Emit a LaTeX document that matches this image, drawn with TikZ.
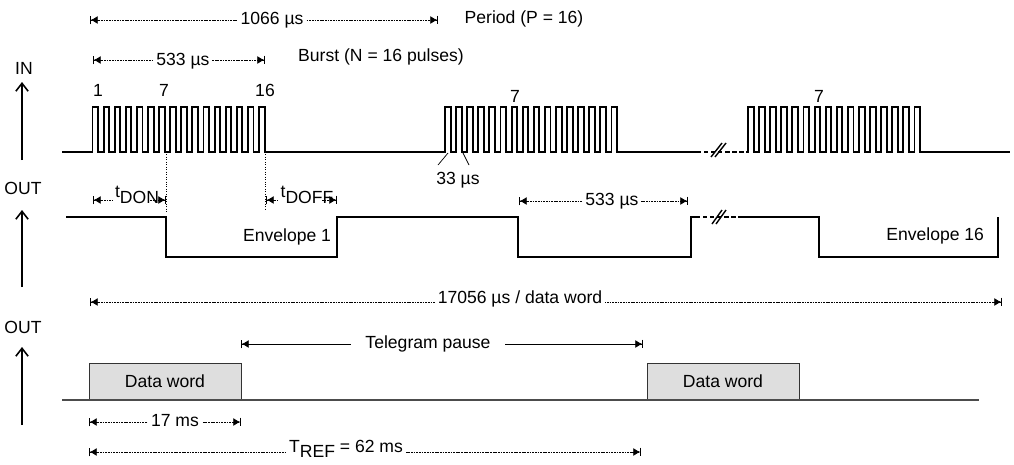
\documentclass[tikz,border=0pt]{standalone}
\usepackage{fontspec}
\setmainfont{Liberation Sans}
\usetikzlibrary{arrows.meta}

\begin{document}
\begin{tikzpicture}[x=0.02cm,y=-0.02cm,
  lbl/.style={font=\fontsize{10}{12}\selectfont,inner sep=1.5pt},
  wave/.style={line width=1.1pt},
  brk/.style={dash pattern=on 2.5pt off 1.5pt},
  axis/.style={line width=0.6pt,-{Straight Barb[length=4.5pt,width=7pt,line width=0.9pt]}},
  dimline/.style={line width=0.4pt,dash pattern=on 1pt off 0.5pt},
  ltip/.style={arrows={Bar[width=5pt]Latex[length=4pt,width=4.5pt]-}},
  rtip/.style={arrows={-Latex[length=4pt,width=4.5pt]Bar[width=5pt]}},
  dim/.style={dimline,arrows={Bar[width=5pt]Latex[length=4pt,width=4.5pt]-Latex[length=4pt,width=4.5pt]Bar[width=5pt]}},
  guide/.style={line width=0.4pt,densely dotted},
  word/.style={draw=black!80,fill=black!13,line width=0.5pt}]
  \useasboundingbox (0,0) rectangle (1014,464);
  % axes
  \node[lbl] (in) at (24,68) {IN};
  \node[lbl] (out1) at (23,188) {OUT};
  \node[lbl] (out2) at (23,327) {OUT};
  \draw[axis] (22,160) -- (22,82);
  \draw[axis] (22,287) -- (22,210);
  \draw[axis] (22,425) -- (22,347);
  % input bursts
  \draw[wave] (62,152) -- (92.5,152)
    \foreach \k in {1,...,16}{-- ++(0,-45) -- ++(5.6,0) -- ++(0,45) -- ++(5.5,0)}
    -- (445,152)
    \foreach \k in {1,...,16}{-- ++(0,-45) -- ++(5.6,0) -- ++(0,45) -- ++(5.5,0)}
    -- (697,152);
  \draw[wave,brk] (697,152) -- (746,152);
  \draw[wave] (746,152) -- (748,152)
    \foreach \k in {1,...,16}{-- ++(0,-45) -- ++(5.6,0) -- ++(0,45) -- ++(5.5,0)}
    -- (1010,152);
  \draw[thick] (711,157) -- (722,143) (715,157) -- (726,143);
  \node[lbl] (n1) at (98,90) {1};
  \node[lbl] (n7) at (164,90) {7};
  \node[lbl] (n16) at (265,90) {16};
  \node[lbl] (n7b) at (515,96) {7};
  \node[lbl] (n7c) at (819,96) {7};
  % pulse width
  \draw[thin] (438,165) -- (448,153) (469,165) -- (463,153);
  \node[lbl] (t33) at (458,180) {33 µs};
  % output envelopes
  \draw[wave] (66,217) -- (166,217) -- (166,257) -- (337,257) -- (337,217)
    -- (518,217) -- (518,257) -- (691,257) -- (691,217) -- (696,217);
  \draw[wave,brk] (696,217) -- (742,217);
  \draw[wave] (742,217) -- (819,217) -- (819,257) -- (998,257) -- (998,217);
  \draw[thick] (712,224) -- (722,210) (716,224) -- (726,210);
  \node[lbl,anchor=east] (env1) at (334,237) {Envelope 1};
  \node[lbl,anchor=east] (env16) at (987,236) {Envelope 16};
  \draw[guide] (166,152) -- (166,212);
  \draw[guide] (265,152) -- (265,210);
  % delays
  \node[lbl] (tdon) at (137,195) {\raisebox{0.7ex}{t}DON};
  \draw[dimline,ltip] (93,200) -- (tdon.west |- 0,200);
  \draw[dimline,rtip] (150,200) -- (166,200);
  \node[lbl] (tdoff) at (307,195) {\raisebox{0.7ex}{t}DOFF};
  \draw[dimline,ltip] (266,200) -- (tdoff.west |- 0,200);
  \draw[dimline,rtip] (322,200) -- (337,200);
  % time spans
  \draw[dim] (90,20) -- (438,20);
  \node[lbl,fill=white] (tper) at (272,20) {1066 µs};
  \node[lbl] (per) at (524,19) {Period (P = 16)};
  \draw[dim] (93,60) -- (265,60);
  \node[lbl,fill=white] (tbur) at (183,61) {533 µs};
  \node[lbl] (bur) at (381,57) {Burst (N = 16 pulses)};
  \draw[dim] (519,201) -- (688,201);
  \node[lbl,fill=white] (toff) at (612,201) {533 µs};
  \draw[dim] (90,302) -- (1002,302);
  \node[lbl,fill=white] (tword) at (520,299) {17056 µs / data word};
  % telegram
  \draw[word] (89,400) rectangle node[lbl] (dw1) {Data word} (241,363);
  \draw[word] (647,400) rectangle node[lbl] (dw2) {Data word} (799,363);
  \draw[line width=0.6pt,black!70] (62,400) -- (979,400);
  \draw[dim,solid] (241,344) -- (643,344);
  \node[lbl,fill=white,inner xsep=8pt] (pause) at (428,344) {Telegram pause};
  \draw[dim] (89,422) -- (241,422);
  \node[lbl,fill=white] (t17) at (175,421) {17 ms};
  \draw[dim] (89,452) -- (641,452);
  \node[lbl,fill=white] (tref) at (346,449) {T\raisebox{-0.5ex}{REF} = 62 ms};
\end{tikzpicture}
\end{document}
